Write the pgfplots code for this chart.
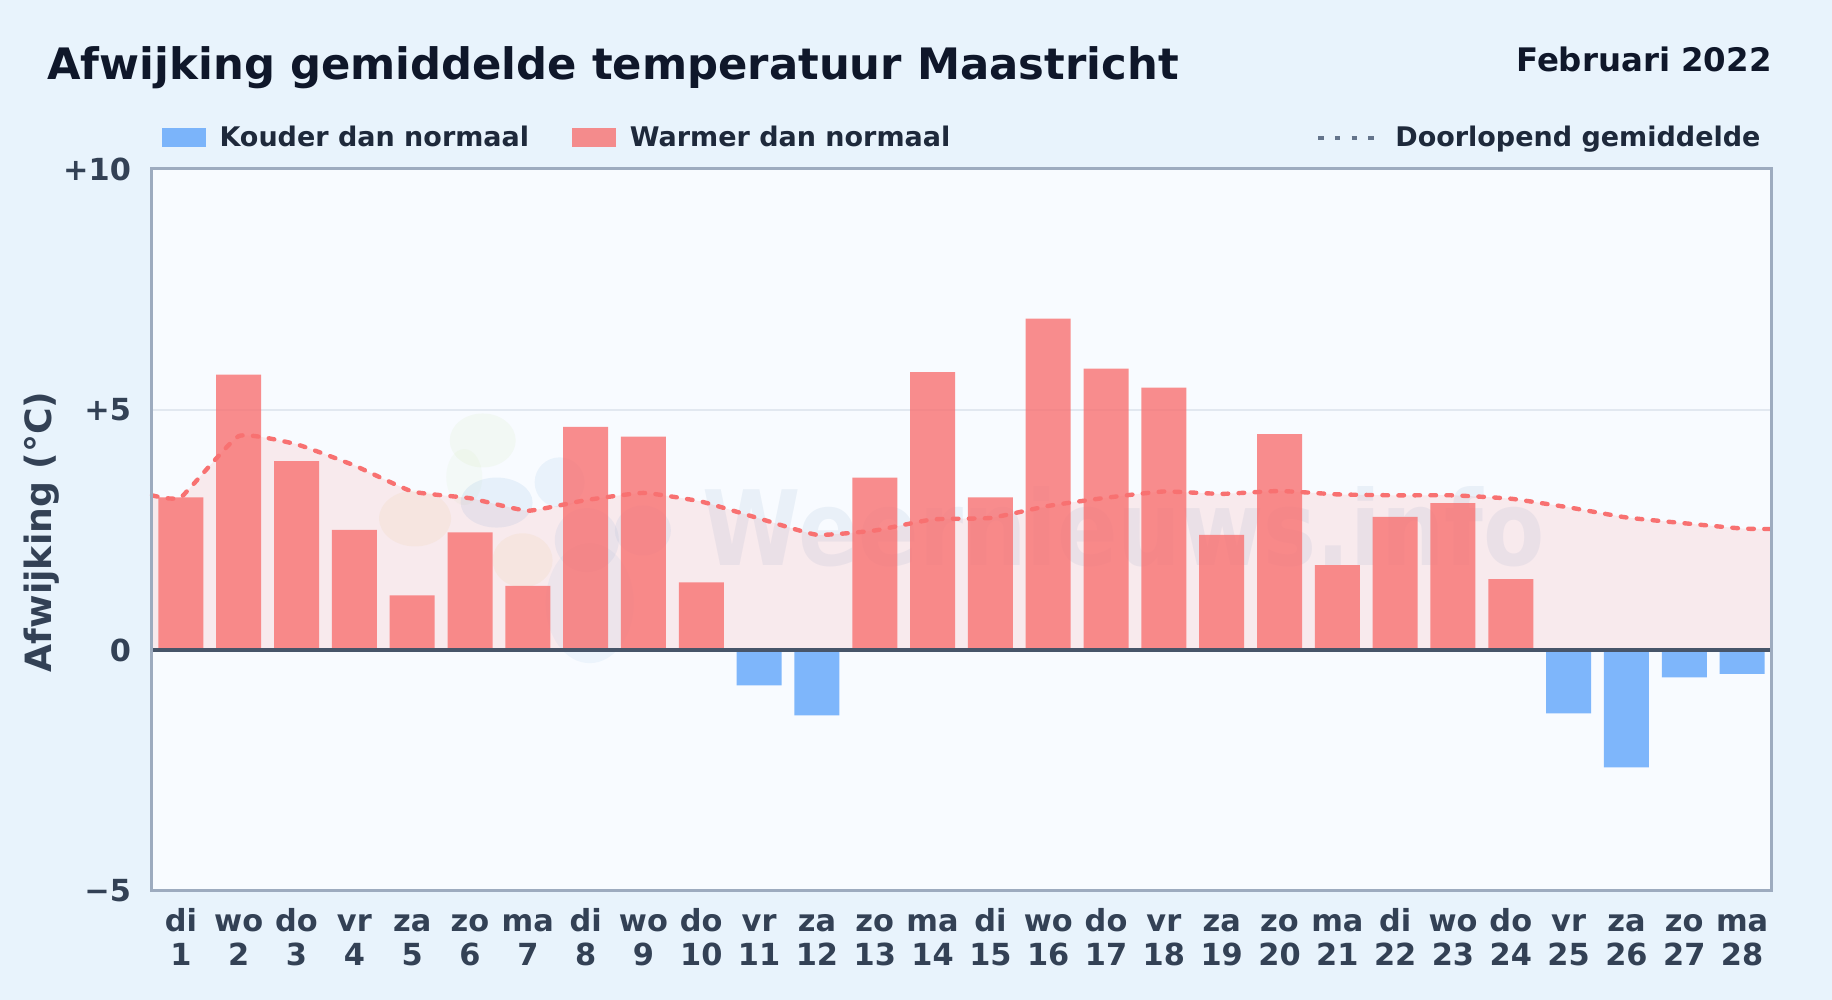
\documentclass[border=0pt]{standalone}
\usepackage{fontspec}
\setmainfont{DejaVu Sans}
\usepackage{pgfplots}
\usepackage{pgfplotstable}
\pgfplotsset{compat=1.18}

\definecolor{pagebg}{HTML}{E8F3FC}
\definecolor{plotbg}{HTML}{F8FBFF}
\definecolor{warm}{HTML}{F87171}
\definecolor{cold}{HTML}{60A5FA}
\definecolor{framec}{HTML}{9DABBF}
\definecolor{gridc}{HTML}{E2E8F0}
\definecolor{zeroc}{HTML}{475569}
\definecolor{titlec}{HTML}{0F172A}
\definecolor{legtext}{HTML}{1E293B}
\definecolor{tickc}{HTML}{334155}
\definecolor{dotc}{HTML}{64748B}
\definecolor{wmark}{HTML}{3B6FA8}
\definecolor{blobg}{HTML}{A6D86A}
\definecolor{bloby}{HTML}{E8C860}
\definecolor{blobb}{HTML}{5A9BD8}

\newcommand{\dl}[2]{\rule{0pt}{11.5pt}#1\\#2}

\pgfplotstableread{
day val
0.5 3.22
1 3.18
2 4.45
3 4.28
4 3.84
5 3.30
6 3.16
7 2.90
8 3.12
9 3.27
10 3.09
11 2.74
12 2.40
13 2.49
14 2.72
15 2.75
16 3.00
17 3.17
18 3.30
19 3.25
20 3.31
21 3.24
22 3.22
23 3.22
24 3.15
25 2.97
26 2.76
27 2.64
28 2.53
28.5 2.52
}\avgtable

\pgfplotstableread{
day val
1 3.18
2 5.73
3 3.93
4 2.50
5 1.14
6 2.45
7 1.34
8 4.64
9 4.44
10 1.41
13 3.59
14 5.78
15 3.18
16 6.89
17 5.85
18 5.46
19 2.40
20 4.49
21 1.77
22 2.77
23 3.06
24 1.48
}\warmtable

\pgfplotstableread{
day val
11 -0.73
12 -1.35
25 -1.31
26 -2.43
27 -0.56
28 -0.49
}\coldtable

\begin{document}
\begin{tikzpicture}
% page background, 1832x1000 px at 0.5pt per px
\fill[pagebg] (-76pt,-54.5pt) rectangle (840pt,445.5pt);
\node[anchor=base west,inner sep=0pt,text=titlec,font=\bfseries\fontsize{21.66}{26}\selectfont] at (-52.5pt,405.8pt) {Afwijking gemiddelde temperatuur Maastricht};
\node[anchor=base east,inner sep=0pt,text=titlec,font=\bfseries\fontsize{16.2}{19}\selectfont] at (810pt,409.9pt) {Februari 2022};
\begin{axis}[
    at={(0pt,0pt)},
    anchor=south west,
    scale only axis,
    clip=false,
    width=809.5pt,
    height=361pt,
    xmin=0.5, xmax=28.5,
    ymin=-5, ymax=10,
    xtick={1,...,28},
    xticklabels={{\dl{di}{1}},{\dl{wo}{2}},{\dl{do}{3}},{\dl{vr}{4}},{\dl{za}{5}},{\dl{zo}{6}},{\dl{ma}{7}},{\dl{di}{8}},{\dl{wo}{9}},{\dl{do}{10}},{\dl{vr}{11}},{\dl{za}{12}},{\dl{zo}{13}},{\dl{ma}{14}},{\dl{di}{15}},{\dl{wo}{16}},{\dl{do}{17}},{\dl{vr}{18}},{\dl{za}{19}},{\dl{zo}{20}},{\dl{ma}{21}},{\dl{di}{22}},{\dl{wo}{23}},{\dl{do}{24}},{\dl{vr}{25}},{\dl{za}{26}},{\dl{zo}{27}},{\dl{ma}{28}}},
    ytick={-5,0,5,10},
    yticklabels={−5,0,+5,+10},
    major tick length=0pt,
    tick label style={font=\bfseries\fontsize{15.2}{17}\selectfont,text=tickc},
    xticklabel style={align=center,yshift=-5.3pt},
    yticklabel style={xshift=-7pt},
    ylabel={Afwijking (°C)},
    every axis y label/.style={at={(axis description cs:-0.068,0.4975)},rotate=90,anchor=center,font=\bfseries\fontsize{18.1}{21}\selectfont,text=tickc},
    ymajorgrids,
    grid style={gridc,line width=1pt},
    axis x line*=bottom,
    axis y line*=left,
    x axis line style={framec,line width=1.5pt,-},
    y axis line style={framec,line width=1.5pt,-},
    axis background/.style={fill=plotbg},
    legend columns=3,
    legend style={
        at={(axis description cs:0.006,1)},
        anchor=south west,
        yshift=9.5pt,
        draw=none,fill=none,
        inner sep=0pt,
        font=\bfseries\fontsize{13.5}{16}\selectfont,
        text=legtext,
        nodes={inner sep=0pt,text=legtext},
        /tikz/column 1/.style={column sep=6.7pt},
        /tikz/column 2/.style={column sep=21.3pt},
        /tikz/column 3/.style={column sep=7pt},
        /tikz/column 4/.style={column sep=182.9pt},
        /tikz/column 5/.style={column sep=9.6pt},
    },
]
% watermark logo blobs
\fill[blobg,opacity=0.07] (axis cs:6.22,4.36) ellipse [x radius=16.5pt,y radius=13.5pt];
\fill[blobg,opacity=0.05] (axis cs:5.9,3.6) ellipse [x radius=9pt,y radius=14pt];
\fill[bloby,opacity=0.09] (axis cs:5.05,2.74) ellipse [x radius=18pt,y radius=14pt];
\fill[blobb,opacity=0.11] (axis cs:6.46,3.07) ellipse [x radius=18pt,y radius=12.5pt];
\fill[blobb,opacity=0.09] (axis cs:7.55,3.49) ellipse [x radius=12.5pt,y radius=12.5pt];
\fill[bloby,opacity=0.09] (axis cs:6.91,1.87) ellipse [x radius=15pt,y radius=13.5pt];
\fill[blobb,opacity=0.09] (axis cs:8.02,2.29) ellipse [x radius=16pt,y radius=16pt];
\fill[blobb,opacity=0.09] (axis cs:8.99,2.49) ellipse [x radius=14pt,y radius=12.5pt];
\fill[blobb,opacity=0.07] (axis cs:8.07,0.98) ellipse [x radius=22pt,y radius=30pt];
\node[anchor=base,inner sep=0pt,text=wmark,opacity=0.08,xscale=0.858,transform shape,font=\bfseries\fontsize{52}{60}\selectfont] at (axis cs:17.31,1.77) {Weernieuws.info};

% running mean, area
\addplot[draw=none,fill=warm,fill opacity=0.12,smooth,tension=0.25,forget plot] table[x=day,y=val] {\avgtable} \closedcycle;

\addplot[ybar,bar width=22.5pt,bar shift=0pt,draw=none,fill=cold,fill opacity=0.8,
    legend image code/.code={\fill[cold,fill opacity=0.8] (0pt,-4.4pt) rectangle (22pt,5.1pt);}]
    table[x=day,y=val] {\coldtable};
\addlegendentry{Kouder dan normaal}
\addplot[ybar,bar width=22.5pt,bar shift=0pt,draw=none,fill=warm,fill opacity=0.8,
    legend image code/.code={\fill[warm,fill opacity=0.8] (0pt,-4.4pt) rectangle (22pt,5.1pt);}]
    table[x=day,y=val] {\warmtable};
\addlegendentry{Warmer dan normaal}

% running mean, line
\addplot[warm,line width=2.2pt,line cap=round,dash pattern=on 2.8pt off 5.2pt,smooth,tension=0.25,forget plot] table[x=day,y=val] {\avgtable};

\addlegendimage{legend image code/.code={\draw[dotc,line width=2pt,dash pattern=on 2.75pt off 5.6pt] (0pt,0.1pt) -- (28pt,0.1pt);}}
\addlegendentry{Doorlopend gemiddelde}

\draw[zeroc,line width=2pt] (axis cs:0.5,0) -- (axis cs:28.5,0);
\draw[framec,line width=1.5pt,line cap=rect] (rel axis cs:0,0) -- (rel axis cs:0,1) -- (rel axis cs:1,1) -- (rel axis cs:1,0) -- cycle;
\end{axis}
\end{tikzpicture}
\end{document}
